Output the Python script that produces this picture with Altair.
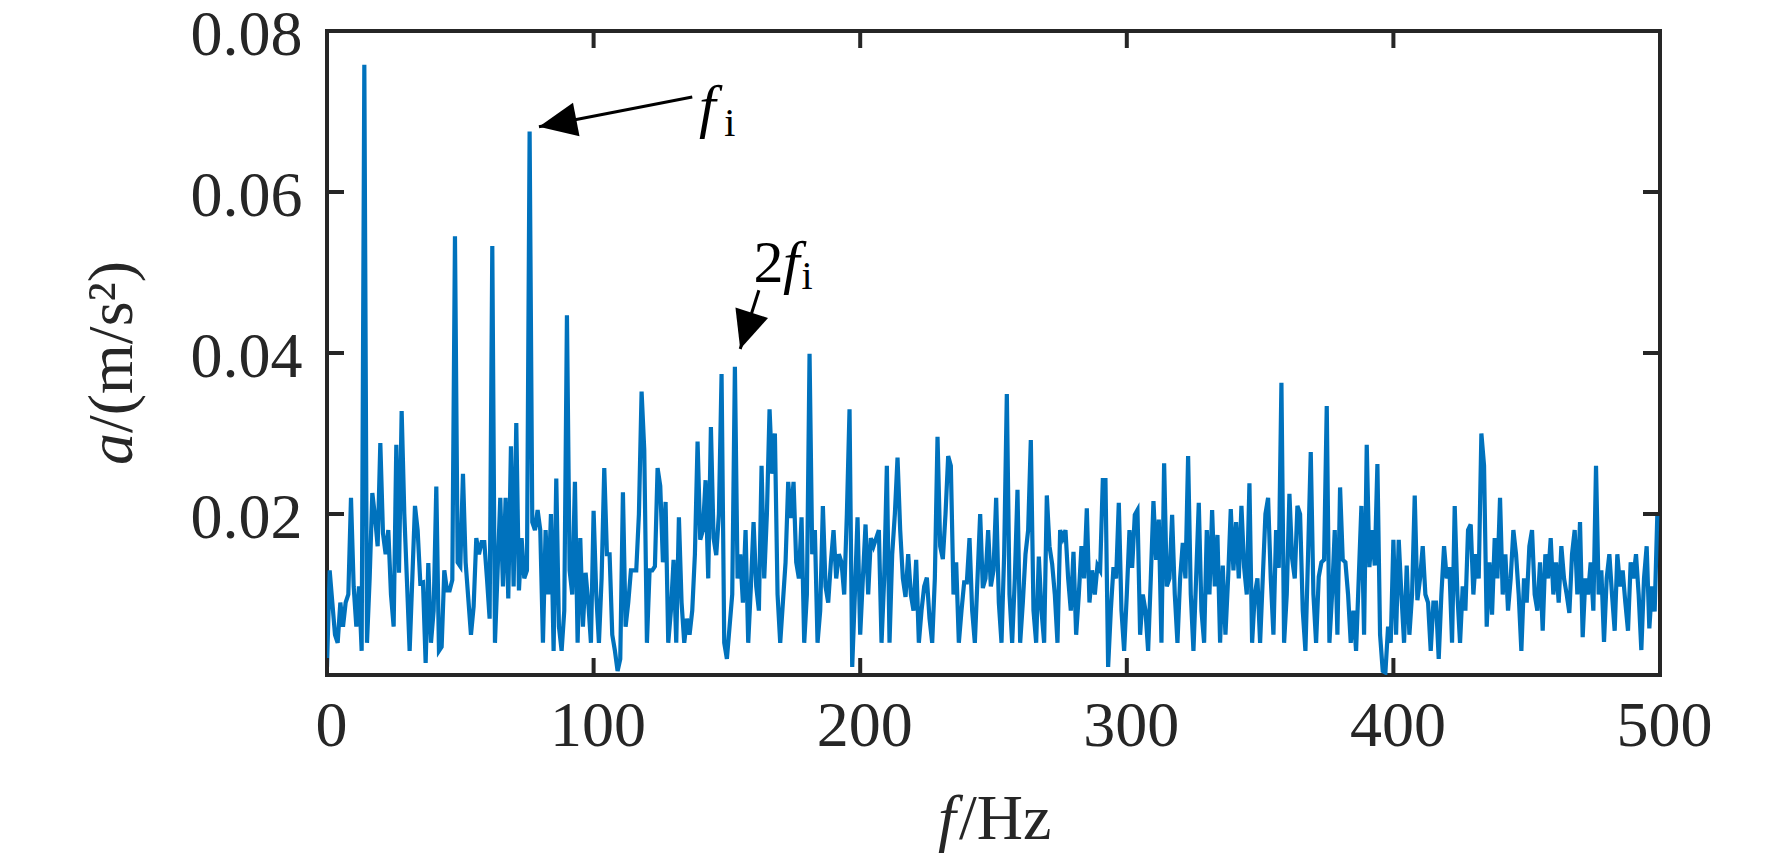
import math
import altair as alt
import pandas as pd

# ---------------- data (1 Hz resolution) ----------------
amp_000_099 = [
    0.001, 0.013, 0.009, 0.005, 0.004, 0.009, 0.006, 0.009, 0.010, 0.022,
    0.011, 0.006, 0.011, 0.003, 0.0758, 0.004, 0.012, 0.0226, 0.0197, 0.016,
    0.0288, 0.0176, 0.015, 0.018, 0.010, 0.006, 0.0286, 0.0127, 0.0328, 0.020,
    0.0116, 0.003, 0.012, 0.021, 0.018, 0.0114, 0.0115, 0.0015, 0.0139, 0.004,
    0.008, 0.0234, 0.003, 0.0035, 0.013, 0.0105, 0.0105, 0.0118, 0.0545, 0.014,
    0.0135, 0.025, 0.014, 0.0095, 0.005, 0.0085, 0.017, 0.015, 0.0165, 0.0165,
    0.012, 0.007, 0.0533, 0.004, 0.013, 0.022, 0.011, 0.022, 0.0095, 0.0284,
    0.011, 0.0313, 0.0105, 0.017, 0.012, 0.013, 0.0675, 0.019, 0.018, 0.0205,
    0.018, 0.004, 0.018, 0.010, 0.020, 0.003, 0.0244, 0.006, 0.003, 0.008,
    0.0447, 0.013, 0.010, 0.024, 0.004, 0.017, 0.006, 0.0127, 0.009, 0.004,
]
amp_100_199 = [
    0.0204, 0.010, 0.004, 0.012, 0.0257, 0.015, 0.015, 0.005, 0.003, 0.0005,
    0.002, 0.0227, 0.006, 0.009, 0.013, 0.013, 0.013, 0.020, 0.0352, 0.028,
    0.004, 0.013, 0.013, 0.0135, 0.0257, 0.0235, 0.014, 0.0215, 0.004, 0.008,
    0.0143, 0.004, 0.0196, 0.009, 0.004, 0.007, 0.005, 0.008, 0.015, 0.029,
    0.0168, 0.018, 0.0242, 0.012, 0.0308, 0.017, 0.0149, 0.020, 0.0374, 0.004,
    0.002, 0.006, 0.010, 0.0383, 0.012, 0.015, 0.009, 0.018, 0.004, 0.011,
    0.019, 0.011, 0.008, 0.026, 0.012, 0.020, 0.033, 0.025, 0.030, 0.010,
    0.004, 0.009, 0.014, 0.024, 0.0195, 0.024, 0.014, 0.012, 0.0196, 0.004,
    0.010, 0.0399, 0.015, 0.018, 0.004, 0.008, 0.021, 0.011, 0.009, 0.014,
    0.018, 0.012, 0.015, 0.014, 0.010, 0.020, 0.033, 0.001, 0.010, 0.0196,
]
amp_200_299 = [
    0.005, 0.012, 0.0187, 0.010, 0.017, 0.016, 0.017, 0.018, 0.004, 0.012,
    0.026, 0.004, 0.015, 0.020, 0.027, 0.018, 0.012, 0.0097, 0.015, 0.010,
    0.008, 0.0143, 0.004, 0.008, 0.011, 0.0121, 0.007, 0.004, 0.012, 0.0296,
    0.016, 0.0144, 0.020, 0.0272, 0.026, 0.010, 0.014, 0.004, 0.008, 0.0115,
    0.0115, 0.017, 0.008, 0.004, 0.012, 0.020, 0.0108, 0.012, 0.018, 0.011,
    0.013, 0.022, 0.009, 0.004, 0.015, 0.0349, 0.010, 0.004, 0.012, 0.023,
    0.004, 0.009, 0.015, 0.018, 0.0292, 0.008, 0.004, 0.0147, 0.008, 0.004,
    0.0223, 0.016, 0.0138, 0.010, 0.004, 0.018, 0.017, 0.018, 0.012, 0.008,
    0.0153, 0.005, 0.010, 0.016, 0.012, 0.0207, 0.009, 0.013, 0.010, 0.0136,
    0.013, 0.0242, 0.0242, 0.001, 0.008, 0.0134, 0.012, 0.0214, 0.008, 0.003,
]
amp_300_399 = [
    0.010, 0.018, 0.0133, 0.0199, 0.0205, 0.005, 0.010, 0.008, 0.003, 0.012,
    0.0216, 0.0143, 0.0193, 0.004, 0.0263, 0.011, 0.012, 0.0199, 0.010, 0.004,
    0.012, 0.0164, 0.012, 0.0272, 0.010, 0.003, 0.012, 0.0214, 0.008, 0.004,
    0.018, 0.010, 0.0205, 0.011, 0.0174, 0.004, 0.0136, 0.005, 0.012, 0.0206,
    0.013, 0.019, 0.012, 0.021, 0.0134, 0.010, 0.0238, 0.004, 0.010, 0.012,
    0.004, 0.012, 0.020, 0.022, 0.012, 0.005, 0.018, 0.0133, 0.0363, 0.004,
    0.010, 0.0225, 0.0145, 0.012, 0.021, 0.020, 0.008, 0.003, 0.015, 0.0277,
    0.010, 0.004, 0.0122, 0.014, 0.0143, 0.0334, 0.004, 0.010, 0.018, 0.005,
    0.0233, 0.0143, 0.014, 0.010, 0.004, 0.008, 0.003, 0.012, 0.021, 0.005,
    0.0286, 0.0134, 0.018, 0.0136, 0.0262, 0.005, 0.0005, 0.0003, 0.006, 0.004,
]
amp_400_500 = [
    0.0168, 0.005, 0.0168, 0.010, 0.004, 0.0136, 0.005, 0.010, 0.0223, 0.0093,
    0.012, 0.016, 0.010, 0.009, 0.003, 0.009, 0.009, 0.002, 0.010, 0.016,
    0.012, 0.0134, 0.004, 0.021, 0.010, 0.004, 0.011, 0.008, 0.018, 0.0187,
    0.010, 0.015, 0.012, 0.030, 0.026, 0.006, 0.014, 0.0075, 0.017, 0.012,
    0.022, 0.010, 0.015, 0.008, 0.012, 0.018, 0.015, 0.010, 0.003, 0.012,
    0.009, 0.016, 0.018, 0.010, 0.008, 0.014, 0.0055, 0.015, 0.012, 0.017,
    0.010, 0.014, 0.009, 0.016, 0.012, 0.010, 0.0077, 0.015, 0.018, 0.010,
    0.019, 0.0047, 0.012, 0.010, 0.014, 0.008, 0.026, 0.010, 0.013, 0.0041,
    0.012, 0.015, 0.010, 0.0055, 0.015, 0.011, 0.013, 0.009, 0.0055, 0.014,
    0.012, 0.015, 0.010, 0.0031, 0.012, 0.016, 0.0058, 0.011, 0.0079, 0.020,
    0.020,
]
FREQ_STEP_HZ = 1.0

x_tick_values = [0, 100, 200, 300, 400, 500]
y_tick_values = [0.02, 0.04, 0.06, 0.08]
x_domain = [0, 500]
y_domain = [0, 0.08]

# annotation arrows (tail -> tip), in data units
arrow_tail_hz = [137.0, 162.0]
arrow_tail_amp = [0.0718, 0.0478]
arrow_tip_hz = [79.5, 155.0]
arrow_tip_amp = [0.0681, 0.0405]

# annotation text pieces
ital_text = ["f", "f"]
ital_hz = [139.5, 171.0]
ital_amp = [0.0682, 0.0488]
up_text = ["i", "2", "i"]
up_hz = [149.0, 160.0, 178.0]
up_amp = [0.0669, 0.0488, 0.0480]
up_size = [40, 60, 40]

# ---------------- layout ----------------
W, H = 1333, 644
FONT = "Liberation Serif"
INK = "#262626"
TICK = 17

amp = amp_000_099 + amp_100_199 + amp_200_299 + amp_300_399 + amp_400_500
freq = [i * FREQ_STEP_HZ for i in range(len(amp))]
df = pd.DataFrame({"f": freq, "a": amp})

xs = alt.Scale(domain=x_domain, nice=False, zero=False)
ys = alt.Scale(domain=y_domain, nice=False, zero=False)
x_axis = alt.Axis(values=x_tick_values, title=None, format="d",
                  labelPadding=19, labelOffset=4)
y_axis = alt.Axis(values=y_tick_values, title=None, format=".2f",
                  labelPadding=25, labelOffset=4)


def X(field):
    return alt.X(field, type="quantitative", scale=xs, axis=x_axis)


def Y(field):
    return alt.Y(field, type="quantitative", scale=ys, axis=y_axis)


line = alt.Chart(df).mark_line(color="#0072BD", strokeWidth=4.2, clip=True).encode(
    x=X("f"), y=Y("a"))

xt = pd.DataFrame({"f": x_tick_values})
yt = pd.DataFrame({"a": y_tick_values})
rule_kw = dict(color=INK, strokeWidth=4)
tick_bottom = alt.Chart(xt).mark_rule(**rule_kw).encode(
    x=X("f"), y=alt.value(H), y2=alt.value(H - TICK))
tick_top = alt.Chart(xt).mark_rule(**rule_kw).encode(
    x=X("f"), y=alt.value(0), y2=alt.value(TICK))
tick_left = alt.Chart(yt).mark_rule(**rule_kw).encode(
    y=Y("a"), x=alt.value(0), x2=alt.value(TICK))
tick_right = alt.Chart(yt).mark_rule(**rule_kw).encode(
    y=Y("a"), x=alt.value(W), x2=alt.value(W - TICK))

# arrows
px_per_hz = W / (x_domain[1] - x_domain[0])
px_per_amp = H / (y_domain[1] - y_domain[0])
angles = []
for th, ta, ph, pa in zip(arrow_tail_hz, arrow_tail_amp, arrow_tip_hz, arrow_tip_amp):
    dx = (ph - th) * px_per_hz
    dy = -(pa - ta) * px_per_amp
    angles.append(math.degrees(math.atan2(dx, -dy)) % 360)
arr = pd.DataFrame({"f": arrow_tail_hz, "a": arrow_tail_amp,
                    "f2": arrow_tip_hz, "a2": arrow_tip_amp, "ang": angles})
arrow_lines = alt.Chart(arr).mark_rule(color="black", strokeWidth=3).encode(
    x=X("f"), y=Y("a"), x2="f2:Q", y2="a2:Q")
heads = alt.Chart(arr).mark_point(shape="M0,0L-0.9,2L0.9,2Z", filled=True, size=1444,
                                  color="black", opacity=1, strokeWidth=0).encode(
    x=X("f2"), y=Y("a2"), angle=alt.Angle("ang:Q", scale=None))

itdf = pd.DataFrame({"f": ital_hz, "a": ital_amp, "t": ital_text})
updf = pd.DataFrame({"f": up_hz, "a": up_amp, "t": up_text, "s": up_size})
ital = alt.Chart(itdf).mark_text(font=FONT, fontStyle="italic", fontSize=60, color="black",
                                 align="left", baseline="alphabetic").encode(
    x=X("f"), y=Y("a"), text="t:N")
upr = alt.Chart(updf).mark_text(font=FONT, color="black", align="left",
                                baseline="alphabetic").encode(
    x=X("f"), y=Y("a"), text="t:N",
    size=alt.Size("s:Q", scale=None, legend=None))

# axis titles (mixed italic / upright)
one = pd.DataFrame({"k": [0]})
xt_f = alt.Chart(one).mark_text(text="f", font=FONT, fontStyle="italic", fontSize=64, color=INK,
                                align="left", baseline="alphabetic").encode(
    x=alt.value(611), y=alt.value(808))
xt_hz = alt.Chart(one).mark_text(text="/Hz", font=FONT, fontSize=64, color=INK,
                                 align="left", baseline="alphabetic").encode(
    x=alt.value(632), y=alt.value(808))
yt_a = alt.Chart(one).mark_text(text="a", font=FONT, fontStyle="italic", fontSize=64, color=INK,
                                align="left", baseline="alphabetic", angle=270).encode(
    x=alt.value(-195), y=alt.value(434))
yt_u = alt.Chart(one).mark_text(text="/(m/s²)", font=FONT, fontSize=64, color=INK,
                                align="left", baseline="alphabetic", angle=270).encode(
    x=alt.value(-195), y=alt.value(402))

chart = alt.layer(
    line, tick_bottom, tick_top, tick_left, tick_right,
    arrow_lines, heads, ital, upr, xt_f, xt_hz, yt_a, yt_u,
).properties(
    width=W, height=H,
    autosize=alt.AutoSizeParams(type="none"),
    padding={"left": 319, "top": 23, "right": 90, "bottom": 180},
    background="white",
).configure_axis(
    labelFont=FONT, labelFontSize=64, labelColor=INK, ticks=False, tickSize=0,
    domain=False, grid=False, labelFlush=False,
).configure_view(
    stroke=INK, strokeWidth=4,
)

chart.save("out.html", embed_options={"renderer": "svg", "actions": False})
